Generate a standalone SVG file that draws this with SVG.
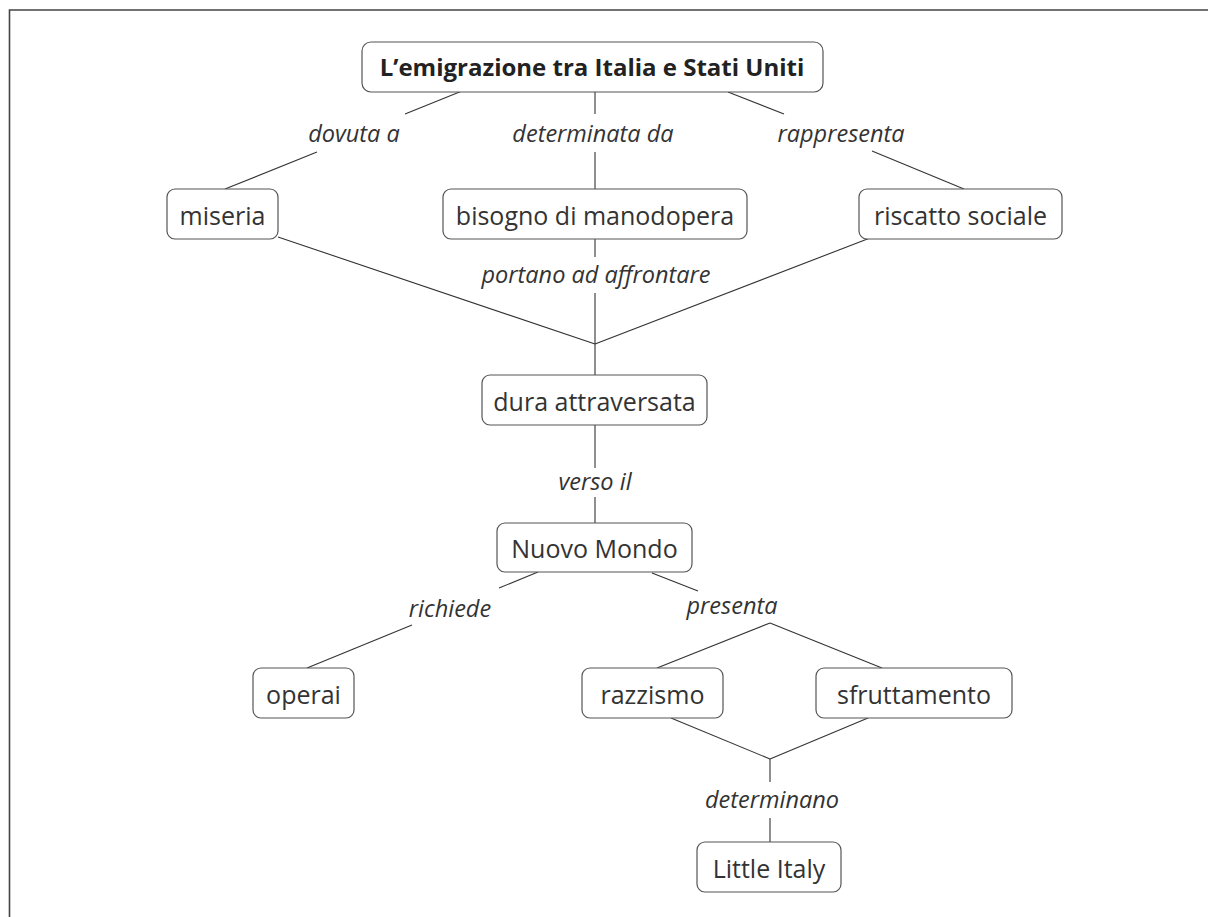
<svg xmlns="http://www.w3.org/2000/svg" width="1208" height="917" viewBox="0 0 1208 917">
  <style>
    .box { fill: #ffffff; stroke: #555555; stroke-width: 1.2; }
    .txt { font-family: "Open Sans", "Liberation Sans", sans-serif; font-size: 25px; fill: #333333; text-anchor: middle; }
    .title { font-weight: bold; font-size: 24px; fill: #222222; }
    .lbl { font-family: "Open Sans", "Liberation Sans", sans-serif; font-size: 23.5px; font-style: italic; fill: #333333; text-anchor: middle; }
    .conn line { stroke: #333333; stroke-width: 1.1; }
  </style>

  <!-- page frame, open to the right and bottom -->
  <path d="M9.5 917 V10 H1208" fill="none" stroke="#444444" stroke-width="1.6"/>

  <g id="connectors" class="conn">
    <!-- title to its three causes -->
    <line x1="462" y1="91" x2="405" y2="114"/>
    <line x1="317" y1="152" x2="225" y2="189"/>
    <line x1="595" y1="92" x2="595" y2="114"/>
    <line x1="595" y1="152" x2="595" y2="189"/>
    <line x1="728" y1="92" x2="784" y2="114"/>
    <line x1="872" y1="151" x2="964" y2="189"/>
    <!-- causes converge onto the crossing -->
    <line x1="278" y1="237" x2="595" y2="344"/>
    <line x1="870" y1="238" x2="595" y2="344"/>
    <line x1="595" y1="239" x2="595" y2="257"/>
    <line x1="595" y1="293" x2="595" y2="375"/>
    <!-- crossing to the New World -->
    <line x1="595" y1="425" x2="595" y2="468"/>
    <line x1="595" y1="497" x2="595" y2="523"/>
    <!-- New World branches -->
    <line x1="538" y1="572" x2="499" y2="588"/>
    <line x1="412" y1="625" x2="307" y2="668"/>
    <line x1="652" y1="573" x2="698" y2="591"/>
    <line x1="770" y1="623" x2="657" y2="668"/>
    <line x1="770" y1="623" x2="882" y2="668"/>
    <!-- racism and exploitation lead to Little Italy -->
    <line x1="671" y1="718" x2="770" y2="759"/>
    <line x1="868" y1="718" x2="770" y2="759"/>
    <line x1="770" y1="759" x2="770" y2="782"/>
    <line x1="770" y1="818" x2="770" y2="842"/>
  </g>

  <g id="labels">
    <text class="lbl" x="354" y="142">dovuta a</text>
    <text class="lbl" x="593" y="142">determinata da</text>
    <text class="lbl" x="841" y="142">rappresenta</text>
    <text class="lbl" x="596" y="283">portano ad affrontare</text>
    <text class="lbl" x="595" y="490">verso il</text>
    <text class="lbl" x="450" y="617">richiede</text>
    <text class="lbl" x="732" y="614">presenta</text>
    <text class="lbl" x="772" y="808">determinano</text>
  </g>

  <g id="node-title">
    <rect class="box" x="362" y="42" width="461" height="50" rx="9"/>
    <text class="txt title" x="592" y="76">L’emigrazione tra Italia e Stati Uniti</text>
  </g>
  <g id="node-miseria">
    <rect class="box" x="167" y="189" width="111" height="50" rx="8"/>
    <text class="txt" x="222.5" y="225">miseria</text>
  </g>
  <g id="node-bisogno">
    <rect class="box" x="443" y="189" width="304" height="50" rx="8"/>
    <text class="txt" x="595" y="225">bisogno di manodopera</text>
  </g>
  <g id="node-riscatto">
    <rect class="box" x="859" y="189" width="203" height="50" rx="8"/>
    <text class="txt" x="960.5" y="225">riscatto sociale</text>
  </g>
  <g id="node-attraversata">
    <rect class="box" x="482" y="375" width="225" height="50" rx="8"/>
    <text class="txt" x="594.5" y="411">dura attraversata</text>
  </g>
  <g id="node-nuovo-mondo">
    <rect class="box" x="497" y="523" width="195" height="49" rx="8"/>
    <text class="txt" x="594.5" y="558">Nuovo Mondo</text>
  </g>
  <g id="node-operai">
    <rect class="box" x="253" y="668" width="101" height="50" rx="8"/>
    <text class="txt" x="303.5" y="704">operai</text>
  </g>
  <g id="node-razzismo">
    <rect class="box" x="582" y="668" width="141" height="50" rx="8"/>
    <text class="txt" x="652.5" y="704">razzismo</text>
  </g>
  <g id="node-sfruttamento">
    <rect class="box" x="816" y="668" width="196" height="50" rx="8"/>
    <text class="txt" x="914" y="704">sfruttamento</text>
  </g>
  <g id="node-little-italy">
    <rect class="box" x="697" y="842" width="144" height="50" rx="8"/>
    <text class="txt" x="769" y="878">Little Italy</text>
  </g>
</svg>
